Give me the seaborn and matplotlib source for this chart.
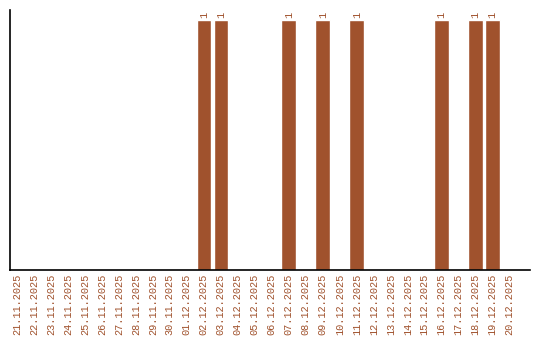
import matplotlib
matplotlib.use("Agg")
import matplotlib.pyplot as plt
import seaborn as sns
import pandas as pd

dates = ["21.11.2025", "22.11.2025", "23.11.2025", "24.11.2025", "25.11.2025",
         "26.11.2025", "27.11.2025", "28.11.2025", "29.11.2025", "30.11.2025",
         "01.12.2025", "02.12.2025", "03.12.2025", "04.12.2025", "05.12.2025",
         "06.12.2025", "07.12.2025", "08.12.2025", "09.12.2025", "10.12.2025",
         "11.12.2025", "12.12.2025", "13.12.2025", "14.12.2025", "15.12.2025",
         "16.12.2025", "17.12.2025", "18.12.2025", "19.12.2025", "20.12.2025"]
values = [0, 0, 0, 0, 0, 0, 0, 0, 0, 0,
          0, 1, 1, 0, 0, 0, 1, 0, 1, 0,
          1, 0, 0, 0, 0, 1, 0, 1, 1, 0]

color = "#A0522D"
sns.set_style("white")
plt.rcParams['font.family'] = ['Liberation Mono', 'DejaVu Sans Mono']

df = pd.DataFrame({"date": dates, "value": values})
fig = plt.figure(figsize=(5.4, 3.4), dpi=100)
ax = fig.add_axes([0.0194, 0.206, 0.9616, 0.764])
sns.barplot(data=df, x="date", y="value", color=color, saturation=1,
            width=0.86, ax=ax, order=dates)
for p, v in zip(ax.patches, values):
    if v > 0:
        ax.text(p.get_x() + p.get_width() / 2, p.get_height() + 0.008, str(v),
                rotation=90, ha="center", va="bottom", color=color, fontsize=7.4)
ax.set_xlim(-0.38, 30.18)
ax.set_ylim(0, 1.04)
ax.set_xlabel("")
ax.set_ylabel("")
ax.set_yticks([])
ax.tick_params(axis="x", length=0, pad=3, labelsize=7.4, labelcolor=color, rotation=90)
for s in ["top", "right"]:
    ax.spines[s].set_visible(False)
for s in ["left", "bottom"]:
    ax.spines[s].set_color("black")
    ax.spines[s].set_linewidth(1.2)
fig.savefig("out.png", dpi=100)
